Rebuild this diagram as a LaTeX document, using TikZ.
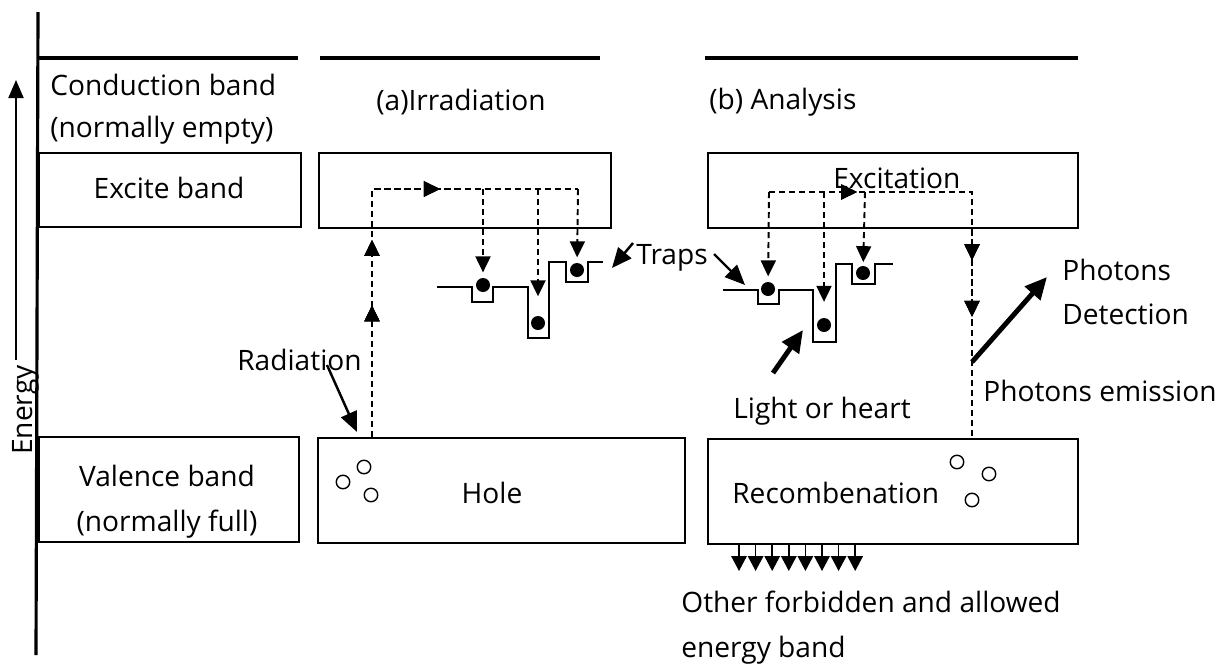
\documentclass[tikz,border=0pt]{standalone}
\usepackage{fontspec}
\setmainfont{Open Sans}
\usetikzlibrary{arrows.meta,positioning,calc,decorations.markings}

\begin{document}
\begin{tikzpicture}[x=0.02cm, y=-0.02cm,
        band/.style={draw, line width=1.1pt, inner sep=0pt, anchor=north west},
        lbl/.style={font=\fontsize{16}{19}\selectfont, inner sep=0pt},
        level/.style={line width=1.8pt},
        trapline/.style={line width=1.1pt},
        dashline/.style={line width=1.1pt, dash pattern=on 3.5pt off 2.2pt},
        jump/.style={dashline, -{Triangle[length=3.2mm,width=3mm]}},
        tipat/.style={postaction={decorate}, decoration={markings,
                      mark=at position #1 with {\arrow{Triangle[length=3.2mm,width=3mm]}}}},
        pointer/.style={line width=1.4pt, -{Triangle[length=4mm,width=3.4mm]}},
        bold/.style={line width=2.8pt, -{Triangle[length=4.4mm,width=4mm]}},
        electron/.style={circle, fill, inner sep=0pt, minimum size=2.8mm},
        hole/.style={circle, draw, line width=0.8pt, inner sep=0pt, minimum size=2.7mm}]
        \useasboundingbox (0,0) rectangle (1217,670);

        % energy axis
        \coordinate (ax0) at (38,12);
        \coordinate (ax1) at (36,655);
        \draw[line width=1.8pt] (ax0) -- (ax1);
        \node[lbl, rotate=90] (energy) at (26,410) {Energy};
        \coordinate (en0) at (16,360);
        \coordinate (en1) at (16,80);
        \draw[line width=1.1pt, -{Triangle[length=3.6mm,width=3mm]}] (en0) -- (en1);

        % conduction band edges
        \draw[level] (38,58) -- (298,58);
        \draw[level] (320,58) -- (600,58);
        \draw[level] (705,58) -- (1078,58);

        % bands
        \node[band, minimum width=5.24cm, minimum height=1.48cm] (exL) at (38,152) {};
        \node[band, minimum width=5.84cm, minimum height=1.5cm] (exM) at (318,152) {};
        \node[band, minimum width=7.4cm, minimum height=1.5cm] (exR) at (707,152) {};
        \node[band, minimum width=5.2cm, minimum height=2.1cm] (vaL) at (38,436) {};
        \node[band, minimum width=7.34cm, minimum height=2.1cm] (vaM) at (317,437) {};
        \node[band, minimum width=7.4cm, minimum height=2.1cm] (vaR) at (707,438) {};

        % labels
        \node[lbl, anchor=west] (cond1) at (50,85) {Conduction band};
        \node[lbl, anchor=west] (cond2) at (50,130) {(normally empty)};
        \node[lbl] (excite) at (169,188) {Excite band};
        \node[lbl] (val1) at (167,476) {Valence band};
        \node[lbl] (val2) at (167,524) {(normally full)};
        \node[lbl, anchor=west] (irr) at (376,102) {(a)Irradiation};
        \node[lbl, anchor=west] (ana) at (709,102) {(b) Analysis};
        \node[lbl] (hole) at (492,493) {Hole};
        \node[lbl, anchor=west] (recomb) at (732,493) {Recombenation};
        \node[lbl, anchor=west] (excit) at (833,178) {Excitation};
        \node[lbl, anchor=west] (traps) at (636,258) {Traps};
        \node[lbl, anchor=west] (rad) at (237,360) {Radiation};
        \node[lbl, anchor=west] (light) at (733,411) {Light or heart};
        \node[lbl, anchor=west] (emis) at (983,391) {Photons emission};
        \node[lbl, anchor=west] (phot) at (1062,270) {Photons};
        \node[lbl, anchor=west] (detect) at (1062,314) {Detection};
        \node[lbl, anchor=west] (other1) at (681,602) {Other forbidden and allowed};
        \node[lbl, anchor=west] (other2) at (681,650) {energy band};

        % holes
        \node[hole] (h1) at (343,482) {};
        \node[hole] (h2) at (364,467) {};
        \node[hole] (h3) at (371,495) {};
        \node[hole] (h4) at (957,462) {};
        \node[hole] (h5) at (989,474) {};
        \node[hole] (h6) at (972,500) {};

        % traps (a)
        \draw[trapline] (437,287) -- (472,287) -- (472,302) -- (493,302) -- (493,287)
            -- (528,287) -- (528,338) -- (549,338) -- (549,262) -- (566,262)
            -- (566,282) -- (588,282) -- (588,262) -- (603,262);
        \node[electron] (e1) at (483,285) {};
        \node[electron] (e2) at (538,323) {};
        \node[electron] (e3) at (577,270) {};

        % traps (b)
        \draw[trapline] (723,290) -- (758,290) -- (758,304) -- (779,304) -- (779,290)
            -- (813,290) -- (813,342) -- (836,342) -- (836,264) -- (852,264)
            -- (852,284) -- (875,284) -- (875,264) -- (893,264);
        \node[electron] (e4) at (768,289) {};
        \node[electron] (e5) at (824,325) {};
        \node[electron] (e6) at (863,273) {};

        % irradiation path
        \coordinate (r0) at (372,437);
        \coordinate (r1) at (372,189);
        \coordinate (r2) at (578,189);
        \draw[dashline, tipat=0.29, tipat=0.434, tipat=0.696] (r0) -- (r1) -- (r2);
        \draw[jump, shorten >=3pt] (e1 |- r1) -- (e1);
        \draw[jump, shorten >=11pt] (e2 |- r1) -- (e2);
        \draw[jump, shorten >=3pt] (r2) -- (e3);

        % analysis path
        \coordinate (a0) at (769,192);
        \coordinate (a1) at (972,192);
        \coordinate (a2) at (972,438);
        \draw[dashline, tipat=0.196, tipat=0.604, tipat=0.73] (a0) -- (a1) -- (a2);
        \draw[jump, shorten >=3pt] (a0) -- (e4);
        \draw[jump, shorten >=9pt] (e5 |- a0) -- (e5);
        \draw[jump, shorten >=2pt] (865,192) -- (e6);

        % pointers
        \coordinate (tp1) at (612,268);
        \coordinate (tp2) at (745,285);
        \draw[pointer] (633,243) -- (tp1);
        \draw[pointer] (714,254) -- (tp2);
        \coordinate (rd) at (357,432);
        \draw[pointer] (327,365) -- (rd);
        \coordinate (lt0) at (773,373);
        \coordinate (lt1) at (803,330);
        \draw[bold] (lt0) -- (lt1);
        \coordinate (pd0) at (972,362);
        \coordinate (pd1) at (1047,277);
        \draw[bold] (pd0) -- (pd1);

        % release to lower bands
        \foreach \i in {0,...,7}
          \draw[line width=0.9pt, -{Triangle[length=3mm,width=3.1mm]}]
            (739+\i*16.6,543) -- (739+\i*16.6,571);
      \end{tikzpicture}
\end{document}
